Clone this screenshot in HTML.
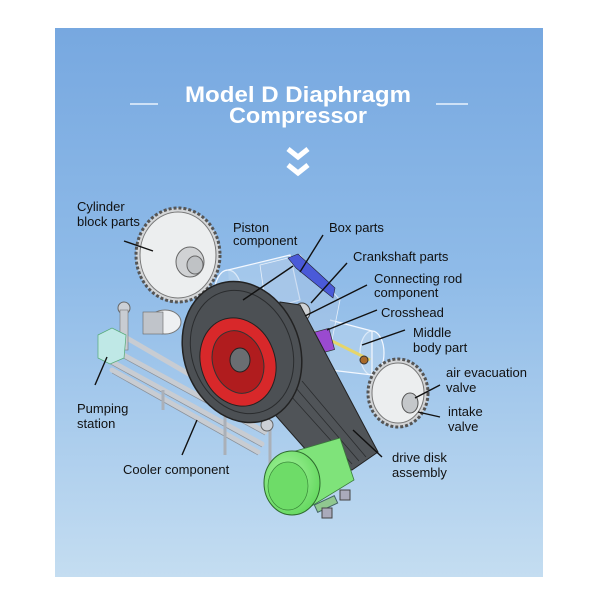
<!DOCTYPE html>
<html><head><meta charset="utf-8"><style>
html,body{margin:0;padding:0;background:#fff;}
svg{display:block;}
text{font-family:"Liberation Sans",Arial,sans-serif;}
</style></head><body>
<svg width="600" height="600" viewBox="0 0 600 600" xmlns="http://www.w3.org/2000/svg">
<defs>
<linearGradient id="bg" x1="0" y1="0" x2="0" y2="1">
<stop offset="0" stop-color="#77a8e0"/>
<stop offset="0.45" stop-color="#8fbbe8"/>
<stop offset="1" stop-color="#c4ddf1"/>
</linearGradient>
<radialGradient id="gr" cx="0.4" cy="0.4" r="0.7">
<stop offset="0" stop-color="#a8f5a0"/><stop offset="1" stop-color="#5fd65a"/>
</radialGradient>
</defs>
<rect x="55" y="28" width="488" height="549" fill="url(#bg)"/>
<!-- title -->
<g fill="#fff" font-weight="bold" text-anchor="middle">
<text x="298" y="102" font-size="22" textLength="226" lengthAdjust="spacingAndGlyphs">Model D Diaphragm</text>
<text x="298" y="123" font-size="22" textLength="138" lengthAdjust="spacingAndGlyphs">Compressor</text>
</g>
<line x1="130" y1="104" x2="158" y2="104" stroke="#e8f2fc" stroke-width="1.5"/>
<line x1="436" y1="104" x2="468" y2="104" stroke="#e8f2fc" stroke-width="1.5"/>
<g fill="none" stroke="#fff" stroke-width="5" stroke-linejoin="miter">
<polyline points="288,149 298,157 308,149"/>
<polyline points="288,165 298,173 308,165"/>
</g>

<!-- cooler tubes -->
<g stroke="#c8ccd2" stroke-width="5" stroke-linecap="round">
<line x1="105" y1="345" x2="265" y2="432"/>
<line x1="105" y1="358" x2="262" y2="444"/>
<line x1="112" y1="370" x2="258" y2="452"/>
<line x1="125" y1="337" x2="268" y2="420"/>
</g>
<g stroke="#8a9098" stroke-width="0.7">
<line x1="105" y1="348" x2="265" y2="435"/>
<line x1="105" y1="361" x2="262" y2="447"/>
<line x1="112" y1="373" x2="258" y2="455"/>
</g>
<g stroke="#aab0b8" stroke-width="3">
<line x1="163" y1="390" x2="163" y2="410"/><line x1="225" y1="420" x2="225" y2="455"/>
<line x1="270" y1="425" x2="270" y2="470"/><line x1="225" y1="385" x2="225" y2="420"/>
</g>
<circle cx="267" cy="425" r="6" fill="#ccd0d6" stroke="#666"/>
<circle cx="124" cy="308" r="6" fill="#ccd0d6" stroke="#666"/>
<rect x="120" y="310" width="8" height="40" fill="#c8ccd2" stroke="#777" stroke-width="0.6"/>
<ellipse cx="165" cy="322" rx="16" ry="12" fill="#eef0f2" stroke="#777"/>
<rect x="143" y="312" width="20" height="22" fill="#c0c4ca" stroke="#666" stroke-width="0.6"/>
<polygon points="98,335 112,328 126,335 124,358 110,364 98,358" fill="#bfe8e6" stroke="#5a7" stroke-width="0.7"/>

<!-- cylinder block gear -->
<ellipse cx="178" cy="255" rx="42" ry="47" fill="#d4d6d8" stroke="#555" stroke-dasharray="3 2" stroke-width="3"/>
<ellipse cx="178" cy="255" rx="38" ry="43" fill="#eceeef" stroke="#777"/>
<ellipse cx="190" cy="262" rx="14" ry="15" fill="#d0d2d4" stroke="#666"/>
<ellipse cx="195" cy="265" rx="8" ry="9" fill="#bfc2c5" stroke="#666"/>

<!-- transparent cylinders -->
<g fill="#bcd6f0" fill-opacity="0.45" stroke="#f4f8ff" stroke-width="1.2">
<ellipse cx="228" cy="295" rx="14" ry="25"/>
<path d="M228 270 L290 255 L300 300 L232 320"/>
<ellipse cx="372" cy="353" rx="12" ry="22"/>
<path d="M330 320 L372 331 L372 375 L330 370"/>
</g>
<line x1="230" y1="290" x2="370" y2="360" stroke="#e6d56a" stroke-width="3"/>
<circle cx="228" cy="290" r="6" fill="#a86a2a" stroke="#333"/>
<circle cx="364" cy="360" r="4" fill="#a86a2a" stroke="#333"/>
<polygon points="260,265 300,255 340,300 330,350 300,360 268,320" fill="#a8c4e6" fill-opacity="0.5" stroke="#e8f0fa" stroke-width="0.8"/>
<polygon points="288,258 298,254 335,288 333,298 323,290 296,268" fill="#4a5ad8" stroke="#223" stroke-width="0.6"/>
<rect x="240" y="298" width="18" height="22" fill="#9a4ad0" stroke="#333" stroke-width="0.7" transform="rotate(-15 249 309)"/>
<rect x="316" y="330" width="16" height="22" fill="#9a4ad0" stroke="#333" stroke-width="0.7" transform="rotate(-15 324 341)"/>
<ellipse cx="293" cy="320" rx="13" ry="14" fill="#b8bcc0" stroke="#333"/>
<ellipse cx="280" cy="330" rx="11" ry="12" fill="#9ea2a6" stroke="#333"/>
<ellipse cx="302" cy="312" rx="8" ry="9" fill="#cfd2d5" stroke="#444"/>

<!-- belt -->
<polygon points="280,302 300,305 378,452 352,470 322,468 262,400" fill="#505458" stroke="#222" stroke-width="1"/>
<g stroke="#2a2c2e" stroke-width="0.8">
<line x1="290" y1="395" x2="352" y2="464"/><line x1="296" y1="388" x2="359" y2="461"/>
<line x1="302" y1="381" x2="366" y2="457"/>
</g>
<!-- big pulley -->
<ellipse cx="242" cy="352" rx="58" ry="72" fill="#4c5054" stroke="#222" stroke-width="1.5" transform="rotate(-20 242 352)"/>
<ellipse cx="242" cy="352" rx="50" ry="63" fill="none" stroke="#2a2c2e" stroke-width="1" transform="rotate(-20 242 352)"/>
<ellipse cx="238" cy="362" rx="37" ry="45" fill="#d8282a" stroke="#222" transform="rotate(-20 238 362)"/>
<ellipse cx="238" cy="362" rx="25" ry="32" fill="#b01c1e" stroke="#333" transform="rotate(-20 238 362)"/>
<ellipse cx="240" cy="360" rx="10" ry="12" fill="#6a6e72" stroke="#222"/>

<!-- motor -->
<polygon points="282,455 340,438 354,480 305,510" fill="#7fe37a" stroke="#3a7a3a" stroke-width="0.8"/>
<ellipse cx="292" cy="483" rx="28" ry="32" fill="url(#gr)" stroke="#2e6a2e"/>
<ellipse cx="288" cy="486" rx="20" ry="24" fill="#6edc68" stroke="#3a8a3a" stroke-width="0.7"/>
<rect x="315" y="500" width="22" height="8" fill="#90c890" stroke="#466" transform="rotate(-25 326 504)"/>
<rect x="322" y="508" width="10" height="10" fill="#aab" stroke="#444"/>
<rect x="340" y="490" width="10" height="10" fill="#aab" stroke="#444"/>

<!-- valve gear right -->
<ellipse cx="398" cy="393" rx="30" ry="34" fill="#d2d4d6" stroke="#555" stroke-dasharray="3 2" stroke-width="3"/>
<ellipse cx="398" cy="393" rx="26" ry="30" fill="#eceeef" stroke="#777"/>
<ellipse cx="410" cy="403" rx="8" ry="10" fill="#c4c7ca" stroke="#555"/>

<!-- leader lines -->
<g stroke="#111" stroke-width="1.4">
<line x1="124" y1="241" x2="153" y2="251"/>
<line x1="293" y1="266" x2="243" y2="300"/>
<line x1="323" y1="235" x2="300" y2="272"/>
<line x1="347" y1="263" x2="311" y2="303"/>
<line x1="367" y1="285" x2="305" y2="316"/>
<line x1="377" y1="310" x2="327" y2="330"/>
<line x1="405" y1="330" x2="362" y2="345"/>
<line x1="440" y1="385" x2="415" y2="398"/>
<line x1="440" y1="417" x2="418" y2="412"/>
<line x1="107" y1="357" x2="95" y2="385"/>
<line x1="197" y1="420" x2="182" y2="455"/>
<line x1="353" y1="430" x2="382" y2="457"/>
</g>

<!-- labels -->
<g font-size="13" fill="#111">
<text x="77" y="211">Cylinder</text><text x="77" y="226">block parts</text>
<text x="233" y="232">Piston</text><text x="233" y="245">component</text>
<text x="329" y="232">Box parts</text>
<text x="353" y="261">Crankshaft parts</text>
<text x="374" y="283">Connecting rod</text><text x="374" y="297">component</text>
<text x="381" y="317">Crosshead</text>
<text x="413" y="337">Middle</text><text x="413" y="352">body part</text>
<text x="446" y="377">air evacuation</text><text x="446" y="392">valve</text>
<text x="448" y="416">intake</text><text x="448" y="431">valve</text>
<text x="77" y="413">Pumping</text><text x="77" y="428">station</text>
<text x="123" y="474">Cooler component</text>
<text x="392" y="462">drive disk</text><text x="392" y="477">assembly</text>
</g>
</svg>
</body></html>
